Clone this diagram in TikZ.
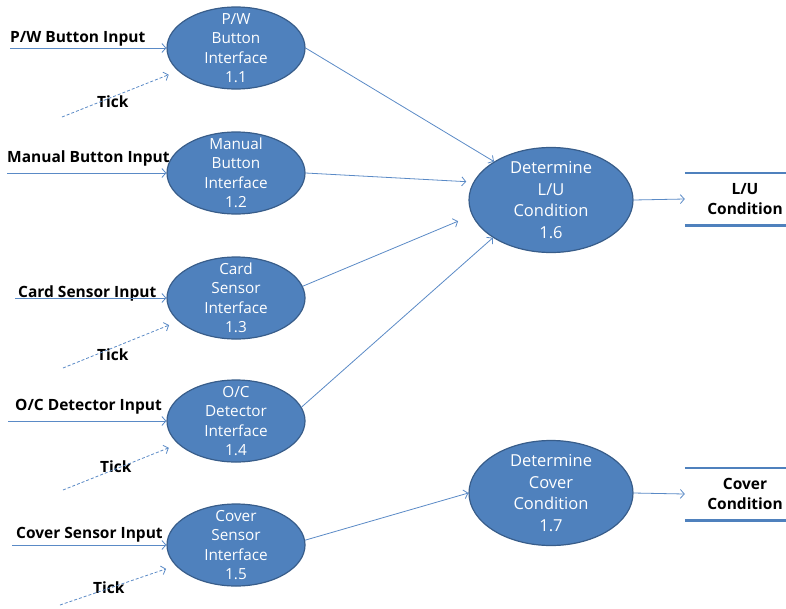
\documentclass[tikz,border=0pt]{standalone}
\usepackage{fontspec}
\setmainfont{Open Sans}
\usetikzlibrary{arrows.meta,shapes.geometric}
\definecolor{pfill}{HTML}{4F81BD}
\definecolor{pdraw}{HTML}{385D8A}
\definecolor{flowc}{HTML}{5A8AC6}
\begin{document}
\begin{tikzpicture}[x=1pt,y=-1pt,
  proc/.style={ellipse, fill=pfill, draw=pdraw, line width=1.2pt,
    minimum width=138pt, minimum height=82pt, inner sep=0pt},
  bigproc/.style={proc, minimum width=164pt, minimum height=105pt},
  ptext/.style={text=white, align=center, inner sep=0pt,
    font=\fontsize{15.3}{19.5}\selectfont},
  btext/.style={text=white, align=center, inner sep=0pt,
    font=\fontsize{16.5}{21.7}\selectfont},
  lab/.style={font=\bfseries\fontsize{15.5}{18}\selectfont, inner sep=0pt, anchor=base west},
  stext/.style={font=\bfseries\fontsize{15.5}{20}\selectfont, align=center, inner sep=0pt},
  store/.style={minimum width=101pt, minimum height=52pt, inner sep=0pt},
  storeline/.style={draw=pfill, line width=2.6pt},
  flow/.style={draw=flowc, line width=0.8pt, -{Straight Barb[length=4pt,width=9pt]}},
  tickflow/.style={flow, dash pattern=on 3pt off 2pt}
]
\useasboundingbox (0,0) rectangle (786,608);

% processes
\node[proc, label={[ptext]center:P/W\\Button\\Interface\\1.1}] (n11) at (236,48) {};
\node[proc, label={[ptext]center:Manual\\Button\\Interface\\1.2}] (n12) at (236,173) {};
\node[proc, label={[ptext]center:Card\\Sensor\\Interface\\1.3}] (n13) at (236,298) {};
\node[proc, label={[ptext]center:O/C\\Detector\\Interface\\1.4}] (n14) at (236,421) {};
\node[proc, label={[ptext]center:Cover\\Sensor\\Interface\\1.5}] (n15) at (236,545) {};
\node[bigproc, label={[btext]center:Determine\\L/U\\Condition\\1.6}] (n16) at (551,200) {};
\node[bigproc, label={[btext]center:Determine\\Cover\\Condition\\1.7}] (n17) at (551,493) {};

% stores
\node[store, label={[stext, xshift=9.5pt]center:L/U\\Condition}] (s1) at (735.5,199) {};
\draw[storeline] (s1.north west) -- (s1.north east);
\draw[storeline] (s1.south west) -- (s1.south east);
\node[store, label={[stext, xshift=9.5pt]center:Cover\\Condition}] (s2) at (735.5,494) {};
\draw[storeline] (s2.north west) -- (s2.north east);
\draw[storeline] (s2.south west) -- (s2.south east);

% input labels
\node[lab] (l1) at (10,42) {P/W Button Input};
\node[lab] (l2) at (7,162) {Manual Button Input};
\node[lab] (l3) at (18,297) {Card Sensor Input};
\node[lab] (l4) at (15,410) {O/C Detector Input};
\node[lab] (l5) at (16,538) {Cover Sensor Input};

\node[lab] (k1) at (97,107) {Tick};
\node[lab] (k3) at (97,360) {Tick};
\node[lab] (k4) at (100,472) {Tick};
\node[lab] (k5) at (93,593) {Tick};

% input flows
\coordinate (i1) at (10,48);
\coordinate (i2) at (7,173);
\coordinate (i3) at (15,298);
\coordinate (i4) at (8,421);
\coordinate (i5) at (12,545);
\draw[flow] (i1) -- (n11.west);
\draw[flow] (i2) -- (n12.west);
\draw[flow] (i3) -- (n13.west);
\draw[flow] (i4) -- (n14.west);
\draw[flow] (i5) -- (n15.west);

% tick flows
\coordinate (t1) at (62,117);
\coordinate (t3) at (63,368);
\coordinate (t4) at (63,490);
\coordinate (t5) at (60,605);
\draw[tickflow, shorten >=10pt] (t1) -- (n11);
\draw[tickflow, shorten >=10pt] (t3) -- (n13);
\draw[tickflow, shorten >=10pt] (t4) -- (n14);
\draw[tickflow, shorten >=10pt] (t5) -- (n15);

% internal flows
\draw[flow] (n11.east) -- (n16.146);
\draw[flow, shorten >=7pt] (n12.east) -- (n16.167);
\draw[flow, shorten >=15pt] (n13.10) -- (n16.191);
\draw[flow] (n14.12) -- (n16.213);
\draw[flow] (n15.4) -- (n17.west);

% outputs
\draw[flow] (n16.east) -- (s1.west);
\draw[flow] (n17.east) -- (s2.west);
\end{tikzpicture}
\end{document}
